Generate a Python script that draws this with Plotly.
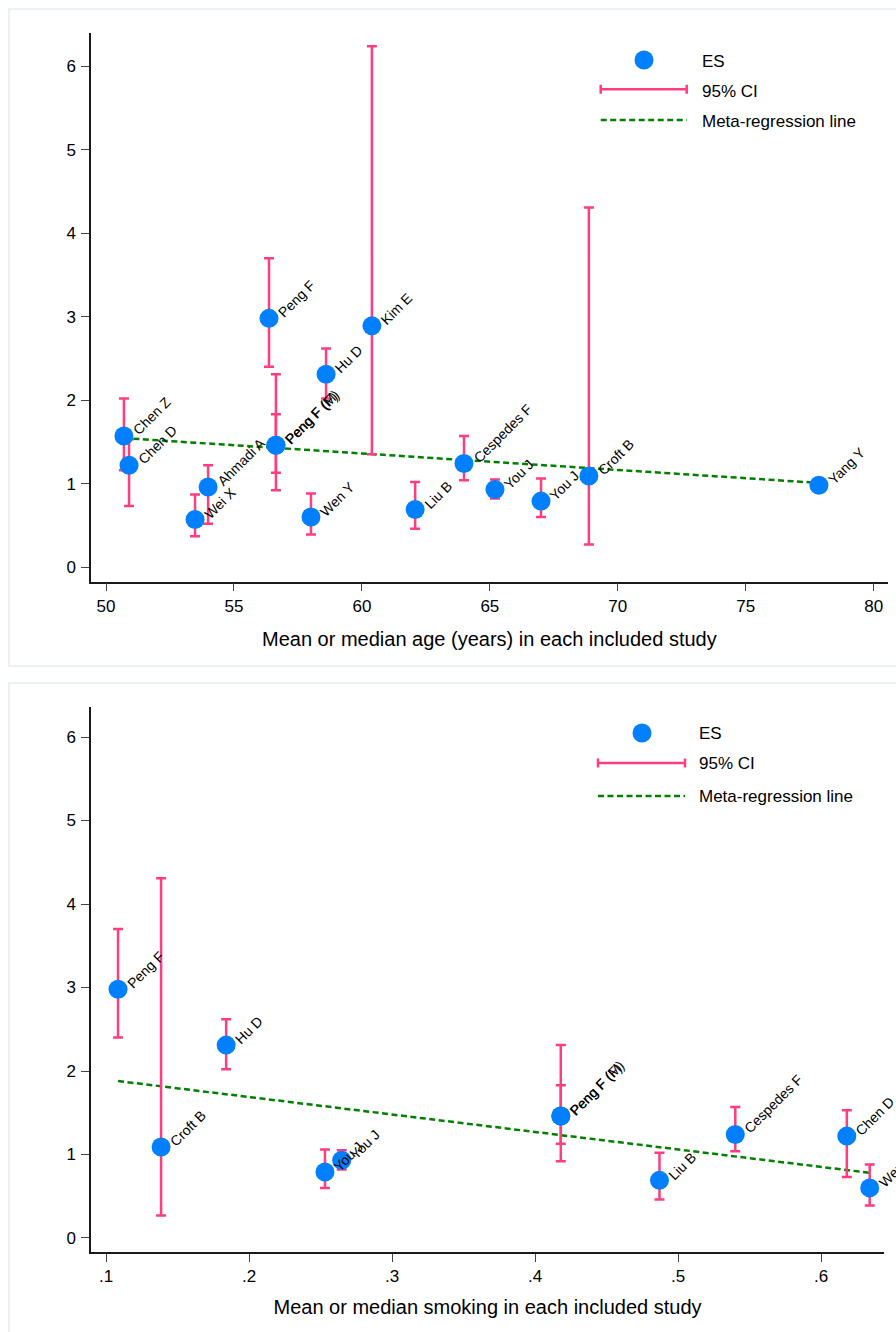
import plotly.graph_objects as go

# ---------------- data: top panel (age) ----------------
age_study = ["Chen Z", "Chen D", "Wei X", "Ahmadi A", "Peng F", "Peng F (M)", "Peng F (F)",
             "Hu D", "Wen Y", "Kim E", "Liu B", "Cespedes F", "You J", "You J", "Croft B", "Yang Y"]
age_x = [50.70, 50.90, 53.48, 53.99, 56.37, 56.64, 56.64, 58.60, 58.01, 60.39, 62.08, 63.99, 65.20, 67.00, 68.87, 77.86]
age_es = [1.57, 1.22, 0.57, 0.96, 2.98, 1.46, 1.46, 2.31, 0.60, 2.89, 0.69, 1.24, 0.93, 0.79, 1.09, 0.98]
age_lo = [1.16, 0.73, 0.37, 0.52, 2.40, 1.13, 0.92, 2.02, 0.39, 1.35, 0.46, 1.04, 0.82, 0.60, 0.27, None]
age_hi = [2.02, 1.53, 0.87, 1.22, 3.70, 1.83, 2.31, 2.62, 0.88, 6.24, 1.02, 1.57, 1.05, 1.06, 4.31, None]
age_fit_x = [50.70, 77.86]
age_fit_y = [1.545, 1.008]

# ---------------- data: bottom panel (smoking) ----------------
smk_study = ["Peng F", "Croft B", "Hu D", "You J", "You J", "Peng F (M)", "Peng F (F)",
             "Liu B", "Cespedes F", "Chen D", "Wen Y"]
smk_x = [0.1084, 0.1385, 0.184, 0.2648, 0.2531, 0.418, 0.418, 0.487, 0.540, 0.618, 0.634]
smk_es = [2.98, 1.09, 2.31, 0.93, 0.79, 1.46, 1.46, 0.69, 1.24, 1.22, 0.60]
smk_lo = [2.40, 0.27, 2.02, 0.82, 0.60, 1.13, 0.92, 0.46, 1.04, 0.73, 0.39]
smk_hi = [3.70, 4.31, 2.62, 1.05, 1.06, 1.83, 2.31, 1.02, 1.57, 1.53, 0.88]
smk_fit_x = [0.1084, 0.634]
smk_fit_y = [1.88, 0.78]

age_ticks = [50, 55, 60, 65, 70, 75, 80]
smk_ticks = [0.1, 0.2, 0.3, 0.4, 0.5, 0.6]
smk_ticktext = [".1", ".2", ".3", ".4", ".5", ".6"]
y_ticks = [0, 1, 2, 3, 4, 5, 6]

legend_labels = ["ES", "95% CI", "Meta-regression line"]
x_titles = ["Mean or median age (years) in each included study",
            "Mean or median smoking in each included study"]

# ---------------- style ----------------
W, H = 896, 1332
FONT = "Liberation Sans, Arial, sans-serif"
BLUE = "#0080FF"
PINK = "#FF3D7F"
GREEN = "#008000"
DASH = "6px,3.5px"


def px(x):
    return x / W


def py(y):
    return 1 - y / H


fig = go.Figure()


def add_panel(xs, es, lo, hi, fx, fy, studies, xa, ya):
    plus = [None if h is None else h - e for h, e in zip(hi, es)]
    minus = [None if l is None else e - l for l, e in zip(lo, es)]
    fig.add_trace(go.Scatter(
        x=fx, y=fy, mode="lines", xaxis=xa, yaxis=ya,
        line=dict(color=GREEN, width=2.5, dash=DASH), hoverinfo="skip"))
    fig.add_trace(go.Scatter(
        x=xs, y=es, mode="markers", xaxis=xa, yaxis=ya,
        marker=dict(size=19, color=BLUE, line=dict(width=0)),
        error_y=dict(type="data", symmetric=False, array=plus, arrayminus=minus,
                     color=PINK, thickness=2.5, width=5),
        cliponaxis=False))
    for s, x, y in zip(studies, xs, es):
        fig.add_annotation(
            x=x, y=y, xref=xa, yref=ya, text=s, showarrow=False,
            textangle=-45, xanchor="left", yanchor="bottom",
            xshift=3, yshift=-5,
            font=dict(family=FONT, size=14, color="black"))


add_panel(age_x, age_es, age_lo, age_hi, age_fit_x, age_fit_y, age_study, "x", "y")
add_panel(smk_x, smk_es, smk_lo, smk_hi, smk_fit_x, smk_fit_y, smk_study, "x2", "y2")

axis_common = dict(showline=True, linecolor="#1a1a1a", linewidth=1.5, ticks="outside",
                   ticklen=8, tickwidth=1.3, tickcolor="#444444", showgrid=False,
                   zeroline=False, tickfont=dict(family=FONT, size=17, color="black"),
                   mirror=False)

fig.update_layout(
    width=W, height=H, margin=dict(l=0, r=0, t=0, b=0),
    paper_bgcolor="white", plot_bgcolor="white", showlegend=False,
    xaxis=dict(domain=[px(91), px(887.7)], range=[49.414, 80.547], tickvals=age_ticks,
               anchor="y",
               title=dict(text=x_titles[0], font=dict(family=FONT, size=20, color="black"),
                          standoff=17),
               **axis_common),
    yaxis=dict(domain=[py(581.7), py(33)], range=[-0.176, 6.40], tickvals=y_ticks,
               anchor="x", ticklabelstandoff=2, **axis_common),
    xaxis2=dict(domain=[px(91), px(884)], range=[0.0895, 0.644], tickvals=smk_ticks,
                ticktext=smk_ticktext, anchor="y2",
                title=dict(text=x_titles[1], font=dict(family=FONT, size=20, color="black"),
                           standoff=15),
                **axis_common),
    yaxis2=dict(domain=[py(1252), py(707)], range=[-0.168, 6.36], tickvals=y_ticks,
                anchor="x2", ticklabelstandoff=2, **axis_common),
)

# panel frames
BORDER = "#E6EDF1"
fig.add_shape(type="rect", xref="paper", yref="paper", x0=px(9), x1=px(910), y0=py(666), y1=py(9),
              line=dict(color=BORDER, width=1.5), layer="below")
fig.add_shape(type="rect", xref="paper", yref="paper", x0=px(9), x1=px(910), y0=py(1345), y1=py(683),
              line=dict(color=BORDER, width=1.5), layer="below")


def add_legend(mx, my, lx0, lx1, ciy, dashy, tx, ty):
    fig.add_shape(type="circle", xref="paper", yref="paper", xsizemode="pixel", ysizemode="pixel",
                  xanchor=px(mx), yanchor=py(my), x0=-9.5, x1=9.5, y0=-9.5, y1=9.5,
                  fillcolor=BLUE, line=dict(width=0))
    fig.add_shape(type="line", xref="paper", yref="paper", x0=px(lx0), x1=px(lx1),
                  y0=py(ciy), y1=py(ciy), line=dict(color=PINK, width=2.5))
    for xx in (lx0, lx1):
        fig.add_shape(type="line", xref="paper", yref="paper", x0=px(xx), x1=px(xx),
                      y0=py(ciy - 4.5), y1=py(ciy + 4.5), line=dict(color=PINK, width=2.5))
    fig.add_shape(type="line", xref="paper", yref="paper", x0=px(lx0), x1=px(lx1),
                  y0=py(dashy), y1=py(dashy), line=dict(color=GREEN, width=2.5, dash=DASH))
    for lab, yy in zip(legend_labels, ty):
        fig.add_annotation(x=px(tx), y=py(yy), xref="paper", yref="paper", text=lab,
                           showarrow=False, xanchor="left", yanchor="middle",
                           font=dict(family=FONT, size=17, color="black"))


add_legend(644, 60, 600.7, 686.7, 89.3, 120, 700, [61, 91, 121.7])
add_legend(642, 733, 598, 685, 763, 796, 697, [733, 763, 796])

fig.write_html("out.html", config={"displayModeBar": False},
               post_script="document.body.style.margin='0';document.body.style.overflow='hidden';")
